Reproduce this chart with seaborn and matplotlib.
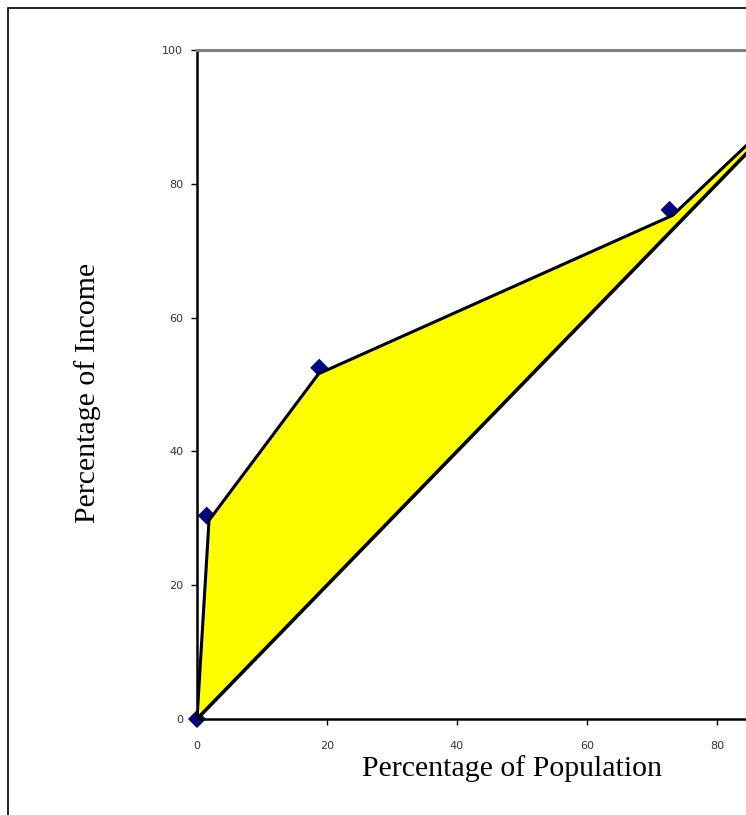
import numpy as np
import pandas as pd
import matplotlib
matplotlib.use("Agg")
import matplotlib.pyplot as plt
import matplotlib.patches as patches
import seaborn as sns

# data
pop_points = [0, 1.5, 18.8, 72.7]
inc_points = [0, 30.4, 52.5, 76.1]

curve_pop = [0, 1.85, 18.7, 73.2, 100]
curve_inc = [0, 29.7, 51.6, 75.3, 100]

equal_pop = [0, 100]
equal_inc = [0, 100]

x_ticks = [0, 20, 40, 60, 80]
y_ticks = [0, 20, 40, 60, 80, 100]

sns.set_style("white")
plt.rcParams['font.family'] = ['DejaVu Sans']

W, H = 746, 815
fig = plt.figure(figsize=(W / 100, H / 100), dpi=100)
# axes run past the right edge of the picture, as in the original
ax = fig.add_axes([197 / W, 96 / H, 650 / W, 669 / H])

# outer frame (only left and top visible)
fig.patches.append(patches.Rectangle((8 / W, -0.5), 2, 0.5 + 1 - 8 / H, transform=fig.transFigure,
                                     fill=False, edgecolor='black', linewidth=1.2, clip_on=False))

pts = pd.DataFrame({'pop': pop_points, 'inc': inc_points})
sns.scatterplot(data=pts, x='pop', y='inc', marker='D', s=85, color='#000080',
                edgecolor='none', ax=ax, zorder=2, clip_on=False)

ax.fill(curve_pop, curve_inc, facecolor='#FFFF00', edgecolor='none', zorder=3)
sns.lineplot(x=curve_pop, y=curve_inc, sort=False, color='black', linewidth=2.2, ax=ax, zorder=4)
sns.lineplot(x=equal_pop, y=equal_inc, sort=False, color='black', linewidth=2.6, ax=ax, zorder=4)

ax.set_xlim(0, 100)
ax.set_ylim(0, 100)
ax.set_xticks(x_ticks)
ax.set_yticks(y_ticks)
ax.tick_params(axis='both', direction='out', length=4, width=1, color='black',
               labelsize=8, labelcolor='#333333')
ax.tick_params(axis='x', pad=12, bottom=True)
ax.tick_params(axis='y', pad=6, left=True)

for side in ['left', 'bottom']:
    ax.spines[side].set_color('black')
    ax.spines[side].set_linewidth(1.8)
ax.spines['top'].set_color('#808080')
ax.spines['top'].set_linewidth(2.2)
ax.spines['right'].set_visible(False)

ax.set_xlabel('Percentage of Population', family='Liberation Serif', fontsize=21.5,
              color='black', va='center')
ax.xaxis.set_label_coords((512 - 197) / 650, (46 - 96) / 669)
ax.set_ylabel('Percentage of Income', family='Liberation Serif', fontsize=21.5,
              color='black', va='center')
ax.yaxis.set_label_coords((88 - 197) / 650, (422 - 96) / 669)

fig.savefig('out.png', dpi=100)
